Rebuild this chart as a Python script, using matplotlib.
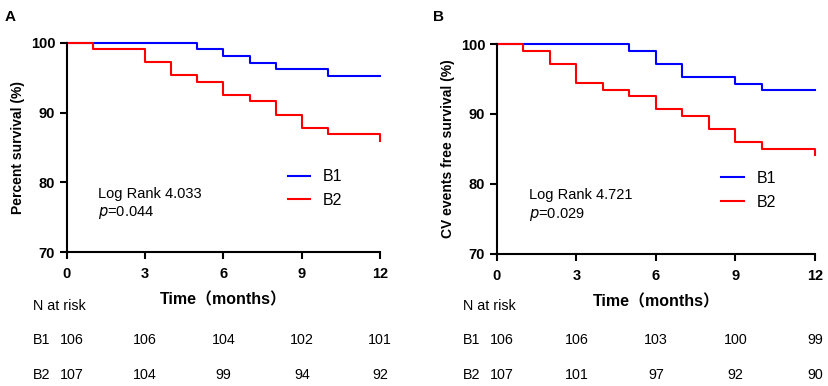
import numpy as np
import matplotlib
matplotlib.use('Agg')
import matplotlib.pyplot as plt
from matplotlib.transforms import blended_transform_factory

plt.rcParams['font.family'] = ['Liberation Sans', 'Noto Sans CJK SC', 'DejaVu Sans']

# step times (months) and survival (%) after each step
a_b1_t = [0, 5, 6, 7, 8, 10, 12]
a_b1_s = [100, 99.06, 98.11, 97.17, 96.23, 95.28, 95.28]
a_b2_t = [0, 1, 3, 4, 5, 6, 7, 8, 9, 10, 12]
a_b2_s = [100, 99.07, 97.20, 95.33, 94.39, 92.52, 91.59, 89.72, 87.85, 86.92, 85.98]

b_b1_t = [0, 5, 6, 7, 9, 10, 12]
b_b1_s = [100, 99.06, 97.17, 95.28, 94.34, 93.40, 93.40]
b_b2_t = [0, 1, 2, 3, 4, 5, 6, 7, 8, 9, 10, 12]
b_b2_s = [100, 99.07, 97.20, 94.39, 93.46, 92.52, 90.65, 89.72, 87.85, 85.98, 85.05, 84.11]

risk_times = [0, 3, 6, 9, 12]
a_risk_b1 = [106, 106, 104, 102, 101]
a_risk_b2 = [107, 104, 99, 94, 92]
b_risk_b1 = [106, 106, 103, 100, 99]
b_risk_b2 = [107, 101, 97, 92, 90]

fig = plt.figure(figsize=(8.29, 3.86), dpi=100)

panels = [
    dict(pos=[0.0808, 0.347, 0.3776, 0.542], letter='A', lx=0.006,
         ylabel='Percent survival (%)', t1=a_b1_t, s1=a_b1_s, t2=a_b2_t, s2=a_b2_s,
         stat='Log Rank 4.033', p='0.044', r1=a_risk_b1, r2=a_risk_b2),
    dict(pos=[0.5995, 0.342, 0.3836, 0.544], letter='B', lx=0.522,
         ylabel='CV events free survival (%)', t1=b_b1_t, s1=b_b1_s, t2=b_b2_t, s2=b_b2_s,
         stat='Log Rank 4.721', p='0.029', r1=b_risk_b1, r2=b_risk_b2),
]

for pn in panels:
    ax = fig.add_axes(pn['pos'])
    ax.step(pn['t1'], pn['s1'], where='post', color='#0000ff', lw=1.5, clip_on=False, label='B1')
    ax.step(pn['t2'], pn['s2'], where='post', color='#ff0000', lw=1.5, clip_on=False, label='B2')
    ax.set_xlim(0, 12)
    ax.set_ylim(70, 100)
    ax.set_xticks(risk_times)
    ax.set_yticks([70, 80, 90, 100])
    for s in ['top', 'right']:
        ax.spines[s].set_visible(False)
    for s in ['left', 'bottom']:
        ax.spines[s].set_linewidth(1.5)
    ax.tick_params(width=1.5, length=5, labelsize=10.5, pad=3.5)
    ax.tick_params(axis='x', pad=5.5)
    for lab in ax.get_xticklabels() + ax.get_yticklabels():
        lab.set_fontweight('bold')
    ax.set_ylabel(pn['ylabel'], fontsize=10, fontweight='bold', labelpad=4)
    ax.set_xlabel('Time（months）', fontsize=11.5, fontweight='bold', labelpad=8)

    ax.legend(loc='upper left', bbox_to_anchor=(0.66, 0.465), frameon=False,
              fontsize=11.5, handlelength=1.4, handletextpad=0.8, labelspacing=0.55)
    ax.text(0.1, 0.26, pn['stat'], transform=ax.transAxes, fontsize=10.5)
    ax.text(0.1, 0.17, r'$p$=' + pn['p'], transform=ax.transAxes, fontsize=10.5)

    fig.text(pn['lx'], 0.945, pn['letter'], fontsize=11, fontweight='bold')

    tr = blended_transform_factory(ax.transData, fig.transFigure)
    ax.text(-1.3, 0.207, 'N at risk', transform=tr, fontsize=10.3, ha='left', va='center')
    for name, row, yy in [('B1', pn['r1'], 0.119), ('B2', pn['r2'], 0.029)]:
        ax.text(-1.3, yy, name, transform=tr, fontsize=10.3, ha='left', va='center')
        for i, (t, n) in enumerate(zip(risk_times, row)):
            x = t + 0.2 if i == 0 else t
            ax.text(x, yy, str(n), transform=tr, fontsize=10.3, ha='center', va='center')

plt.savefig('out.png', dpi=100)
